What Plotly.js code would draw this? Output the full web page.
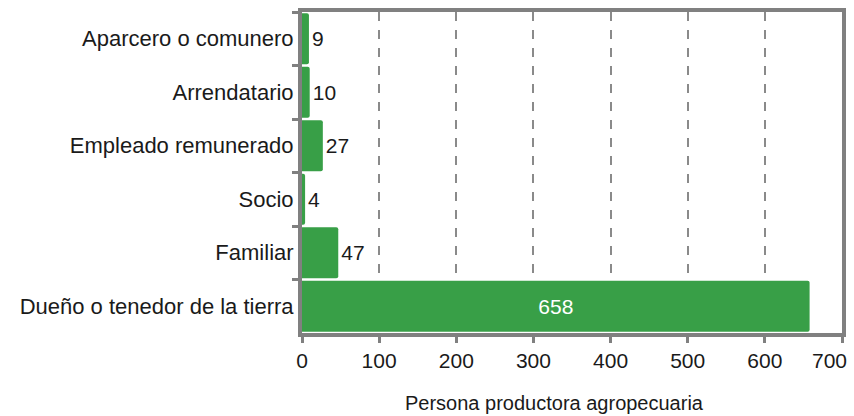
<!DOCTYPE html>
<html><head><meta charset="utf-8">
<script src="https://cdn.plot.ly/plotly-3.0.1.min.js"></script>
<style>html,body{margin:0;padding:0;background:#fff}#chart{width:854px;height:416px}</style>
</head><body><div id="chart"></div>
<script>
const categories = ["Aparcero o comunero","Arrendatario","Empleado remunerado","Socio","Familiar","Dueño o tenedor de la tierra"];
const values = [9, 10, 27, 4, 47, 658];
const textPositions = ["outside","outside","outside","outside","outside","inside"];
const xTicks = [0,100,200,300,400,500,600,700];
const xTickText = ["0","100","200","300","400","500","600",""];
const lastTickLabel = "700";
const xTitle = "Persona productora agropecuaria";

const FONT = 'Liberation Sans, Arial, sans-serif';
const trace = {
  type: 'bar', orientation: 'h',
  y: categories, x: values,
  text: values.map(String),
  textposition: textPositions,
  insidetextanchor: 'middle',
  textfont: {family: FONT, size: 21, color: '#1a1a1a'},
  insidetextfont: {family: FONT, size: 21, color: '#fff'},
  outsidetextfont: {family: FONT, size: 21, color: '#1a1a1a'},
  marker: {color: '#389f47', cornerradius: 2},
  cliponaxis: false,
  hoverinfo: 'none'
};
const layout = {
  width: 854, height: 416,
  margin: {l: 302, r: 12, t: 12, b: 83},
  paper_bgcolor: '#fff', plot_bgcolor: '#fff',
  bargap: 0.05,
  showlegend: false,
  font: {family: FONT, size: 21, color: '#1a1a1a'},
  xaxis: {
    range: [0, 700], tickvals: xTicks, ticktext: xTickText,
    showgrid: true, gridcolor: '#8a8a8a', griddash: 'dash', gridwidth: 2,
    zeroline: false,
    showline: true, linecolor: '#808080', linewidth: 4, mirror: true,
    ticks: 'outside', ticklen: 6, tickwidth: 3, tickcolor: '#808080',
    tickfont: {size: 21, color: '#1a1a1a'}
  },
  yaxis: {
    autorange: 'reversed', type: 'category',
    showgrid: false, zeroline: false,
    showline: true, linecolor: '#808080', linewidth: 4, mirror: true,
    ticks: 'outside', tickson: 'boundaries', ticklen: 6, tickwidth: 3, tickcolor: '#808080',
    tickfont: {size: 22, color: '#1a1a1a'}, ticklabelstandoff: 0
  },
  annotations: [
    {text: lastTickLabel, xref: 'x', x: 700, yref: 'paper', y: 0,
     xanchor: 'right', yanchor: 'middle', xshift: 7, yshift: -27,
     showarrow: false, font: {family: FONT, size: 21, color: '#1a1a1a'}},
    {text: xTitle, xref: 'paper', x: 0.4685, yref: 'paper', y: 0,
     xanchor: 'center', yanchor: 'middle', yshift: -70,
     showarrow: false, font: {family: FONT, size: 20, color: '#1a1a1a'}}
  ]
};
Plotly.newPlot('chart', [trace], layout, {staticPlot: true, displayModeBar: false});
</script></body></html>
